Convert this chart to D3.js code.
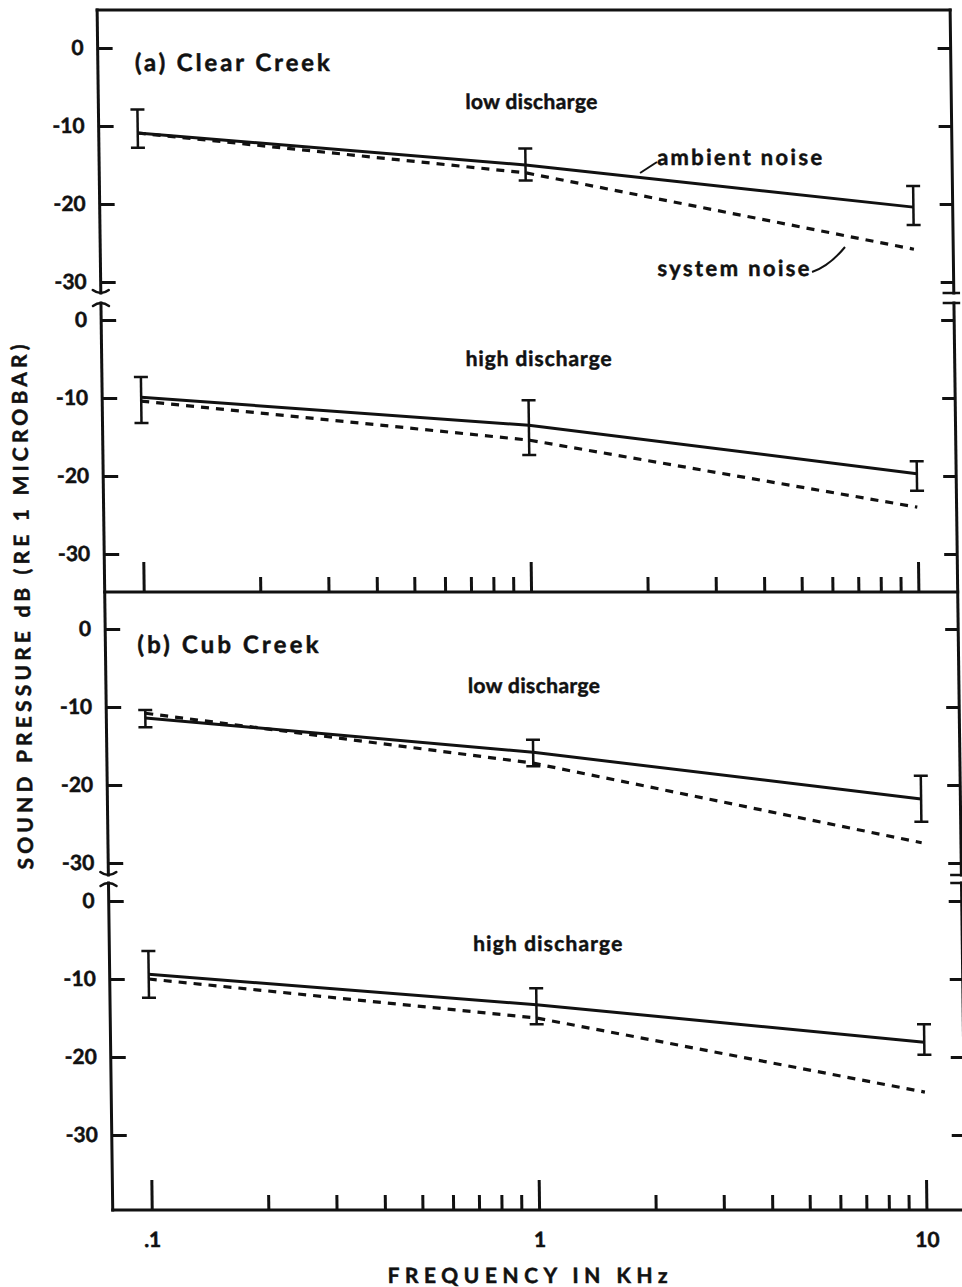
<!DOCTYPE html>
<html><head><meta charset="utf-8">
<script src="https://cdn.jsdelivr.net/npm/d3@7"></script>
<style>
body{margin:0;background:#fff}
text{font-family:Lato,"DejaVu Sans",sans-serif;font-weight:700;fill:#111;stroke:#111;stroke-width:0.5px}
</style>
</head><body>
<svg id="c" width="962" height="1287" xmlns="http://www.w3.org/2000/svg"></svg>
<script>
// ---- data ----
const frequencies = [0.1, 1, 10];           // kHz
const majorTicks = [0.1, 1, 10];
const minorTicks = [0.2,0.3,0.4,0.5,0.6,0.7,0.8,0.9,2,3,4,5,6,7,8,9];
const yTicks = [0, -10, -20, -30];
const xTickLabels = [".1", "1", "10"];

// (a) Clear Creek, low discharge
const aLowAmbient = [-10.9, -15.0, -20.4];
const aLowSystem  = [-10.9, -16.0, -25.8];
const aLowErrHigh = [-7.9, -12.9, -17.7];
const aLowErrLow  = [-12.8, -17.0, -22.7];
// (a) Clear Creek, high discharge
const aHighAmbient = [-9.9, -13.5, -19.7];
const aHighSystem  = [-10.4, -15.4, -24.0];
const aHighErrHigh = [-7.3, -10.3, -18.1];
const aHighErrLow  = [-13.2, -17.3, -21.9];
// (b) Cub Creek, low discharge
const bLowAmbient = [-11.4, -15.8, -21.8];
const bLowSystem  = [-10.8, -17.2, -27.4];
const bLowErrHigh = [-10.4, -14.2, -18.8];
const bLowErrLow  = [-12.6, -17.6, -24.7];
// (b) Cub Creek, high discharge
const bHighAmbient = [-9.4, -13.3, -18.1];
const bHighSystem  = [-10.0, -15.0, -24.5];
const bHighErrHigh = [-6.4, -11.2, -15.8];
const bHighErrLow  = [-12.4, -15.8, -19.7];

// ---- layout ----
const svg = d3.select("#c");
const g = svg.append("g").attr("transform", "skewX(0.745)");
const L = 97, R = 950, T = 10, MID = 592, B = 1210;
const ink = "#111";

const x = d3.scaleLog().domain([0.1, 10]).range([136, 910.7]);

const subpanels = [
  {range:[48,282],  amb:aLowAmbient,  sys:aLowSystem,  hi:aLowErrHigh,  lo:aLowErrLow},
  {range:[320,554], amb:aHighAmbient, sys:aHighSystem, hi:aHighErrHigh, lo:aHighErrLow},
  {range:[629,863], amb:bLowAmbient,  sys:bLowSystem,  hi:bLowErrHigh,  lo:bLowErrLow},
  {range:[901,1135],amb:bHighAmbient, sys:bHighSystem, hi:bHighErrHigh, lo:bHighErrLow}
];

function styleAxis(sel, fs){
  sel.select(".domain").remove();
  sel.selectAll(".tick line").attr("stroke", ink).attr("stroke-width", 3);
  sel.selectAll(".tick text").attr("font-size", fs).attr("font-family", null).attr("fill", ink);
  sel.attr("font-family", null);
}

// frame
const frame = g.append("g").attr("stroke", ink).attr("stroke-width", 3).attr("fill", "none").attr("stroke-linecap","square");
frame.append("line").attr("x1", L).attr("x2", R).attr("y1", T).attr("y2", T);
frame.append("line").attr("x1", L).attr("x2", R).attr("y1", MID).attr("y2", MID);
frame.append("line").attr("x1", L).attr("x2", R).attr("y1", B).attr("y2", B);
const breaks = [[293, 303], [875, 883]];
const segs = [[T, breaks[0][0]], [breaks[0][1], breaks[1][0]], [breaks[1][1], B]];
segs.forEach(s => {
  frame.append("line").attr("x1", L).attr("x2", L).attr("y1", s[0]).attr("y2", s[1]);
  frame.append("line").attr("x1", R).attr("x2", R).attr("y1", s[0]).attr("y2", s[1]);
});
breaks.forEach(b => {
  frame.append("path").attr("stroke-linecap","round").attr("stroke-width",2.5)
    .attr("d", `M${L-8},${b[0]-3} Q${L},${b[0]+3} ${L+8},${b[0]-3}`);
  frame.append("path").attr("stroke-linecap","round").attr("stroke-width",2.5)
    .attr("d", `M${L-8},${b[1]+3} Q${L},${b[1]-3} ${L+8},${b[1]+3}`);
  frame.append("line").attr("stroke-width",2.5).attr("x1", R-10).attr("x2", R+5).attr("y1", b[0]).attr("y2", b[0]);
  frame.append("line").attr("stroke-width",2.5).attr("x1", R-10).attr("x2", R+5).attr("y1", b[1]).attr("y2", b[1]);
});

// y axes per subpanel
subpanels.forEach(p => {
  p.y = d3.scaleLinear().domain([0, -30]).range(p.range);
  g.append("g").attr("transform", `translate(${L},0)`)
    .call(d3.axisLeft(p.y).tickValues(yTicks).tickSize(-15).tickPadding(14).tickFormat(d => String(d)))
    .call(s => styleAxis(s, 21));
  g.append("g").attr("transform", `translate(${R},0)`)
    .call(d3.axisRight(p.y).tickValues(yTicks).tickSize(-13).tickFormat(""))
    .call(s => styleAxis(s, 21));
});

// x axes (panel (a) divider and bottom)
[MID, B].forEach((yy, i) => {
  g.append("g").attr("transform", `translate(0,${yy})`)
    .call(d3.axisBottom(x).tickValues(majorTicks).tickSize(-30).tickPadding(22)
      .tickFormat((d, j) => i === 1 ? xTickLabels[j] : ""))
    .call(s => styleAxis(s, 21));
  g.append("g").attr("transform", `translate(0,${yy})`)
    .call(d3.axisBottom(x).tickValues(minorTicks).tickSize(-15).tickFormat(""))
    .call(s => styleAxis(s, 21));
});

// data
subpanels.forEach(p => {
  const line = d3.line().x((d, i) => x(frequencies[i])).y(d => p.y(d));
  g.append("path").datum(p.amb).attr("d", line).attr("fill", "none")
    .attr("stroke", ink).attr("stroke-width", 3);
  g.append("path").datum(p.sys).attr("d", line).attr("fill", "none")
    .attr("stroke", ink).attr("stroke-width", 3.2).attr("stroke-dasharray", "8,7");
  const eb = g.append("g").attr("stroke", ink).attr("stroke-width", 2.5);
  frequencies.forEach((f, i) => {
    const cx = x(f), y1 = p.y(p.hi[i]), y2 = p.y(p.lo[i]);
    eb.append("line").attr("x1", cx).attr("x2", cx).attr("y1", y1).attr("y2", y2);
    eb.append("line").attr("x1", cx - 7).attr("x2", cx + 7).attr("y1", y1).attr("y2", y1);
    eb.append("line").attr("x1", cx - 7).attr("x2", cx + 7).attr("y1", y2).attr("y2", y2);
  });
});

// labels (textLength matches the widths in the figure)
function label(txt, u, yb, fs, w){
  g.append("text").attr("x", u).attr("y", yb).attr("font-size", fs)
    .attr("textLength", w).attr("lengthAdjust", "spacing").text(txt);
}
label("(a) Clear Creek", 134, 71, 24, 195);
label("low discharge", 464, 109, 21, 132);
label("ambient noise", 655, 165, 22, 165);
label("system noise", 654, 276, 22, 152);
label("high discharge", 461, 366, 21, 146);
label("(b) Cub Creek", 129, 653, 24, 181);
label("low discharge", 459, 693, 21, 132);
label("high discharge", 461, 951, 21, 149);
label("FREQUENCY IN KHz", 371, 1283, 21, 280);

// leader lines
g.append("path").attr("d", "M637.8,173 L654.9,162").attr("stroke", ink).attr("stroke-width", 2).attr("fill","none");
g.append("path").attr("d", "M808.5,272 Q826,266 841.8,247").attr("stroke", ink).attr("stroke-width", 2).attr("fill","none");

// y axis title
g.append("text").attr("transform", "translate(22,607) rotate(-90)")
  .attr("text-anchor", "middle").attr("font-size", 21)
  .attr("textLength", 525).attr("lengthAdjust", "spacing")
  .text("SOUND PRESSURE dB  (RE 1 MICROBAR)");
</script>
</body></html>
